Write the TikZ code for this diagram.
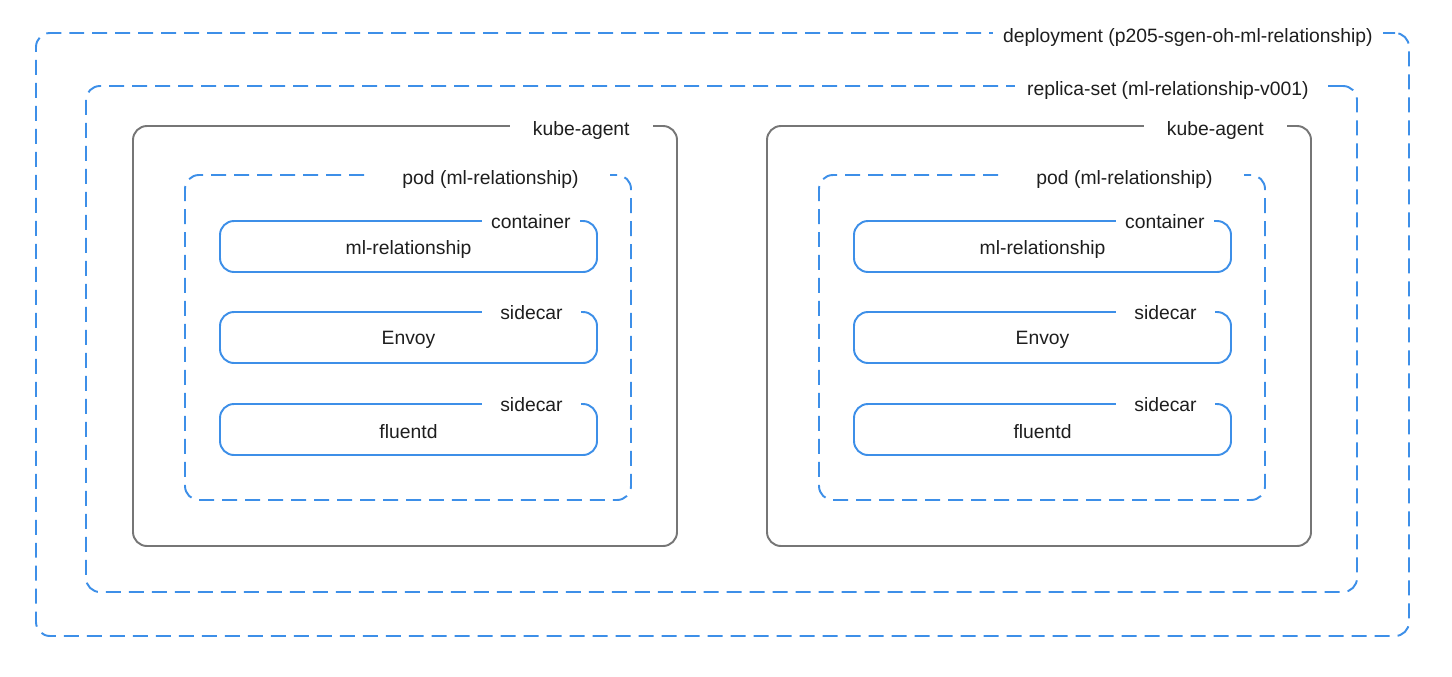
\documentclass[tikz,border=0pt]{standalone}
\usepackage{fontspec}
\setmainfont{Liberation Sans}
\usetikzlibrary{fit}
\definecolor{kblue}{HTML}{3D8FE8}
\definecolor{kgray}{HTML}{767676}
\definecolor{ktext}{HTML}{1E1E1E}
\tikzset{
	outline/.style={draw=kblue, line width=1.1pt, rounded corners=0.28cm, inner sep=0pt},
	dashbox/.style={outline, dash pattern=on 0.3cm off 0.16cm},
	agentbox/.style={outline, draw=kgray},
	caption/.style={text=ktext, font=\fontsize{11}{13}\selectfont},
	tag/.style={caption, fill=white, inner xsep=#1, inner ysep=1pt, anchor=base east, yshift=-0.21cm},
	tag/.default=0.2cm,
	subtag/.style={tag=#1, yshift=0.05cm}
}
\begin{document}
\begin{tikzpicture}[x=0.02cm, y=-0.02cm]
	\useasboundingbox (0,0) rectangle (1452,676);
	\node[dashbox, fit={(36,33) (1409,636)}] (deploy) {};
	\node[tag] (deploytag) at ([xshift=-0.54cm]deploy.north east) {deployment (p205-sgen-oh-ml-relationship)};
	\node[dashbox, fit={(86,86) (1357,592)}] (replica) {};
	\node[tag=0.24cm] (replicatag) at ([xshift=-0.74cm]replica.north east) {replica-set (ml-relationship-v001)};
	\foreach \dx/\s in {0/a, 634/b} {
		\node[agentbox, fit={(133+\dx,126) (677+\dx,546)}] (agent\s) {};
		\node[tag=0.46cm] (agenttag\s) at ([xshift=-0.5cm]agent\s.north east) {kube-agent};
		\node[dashbox, fit={(185+\dx,175) (631+\dx,500)}] (pod\s) {};
		\node[tag=0.62cm] (podtag\s) at ([xshift=-0.44cm]pod\s.north east) {pod (ml-relationship)};
		\node[outline, fit={(220+\dx,221) (597+\dx,272)}] (main\s) {};
		\node[caption, yshift=-0.05cm] (maincaption\s) at (main\s.center) {ml-relationship};
		\node[subtag=0.18cm] (maintag\s) at ([xshift=-0.36cm]main\s.north east) {container};
		\node[outline, fit={(220+\dx,312) (597+\dx,363)}] (envoy\s) {};
		\node[caption, yshift=-0.05cm] (envoycaption\s) at (envoy\s.center) {Envoy};
		\node[subtag=0.36cm] (envoytag\s) at ([xshift=-0.34cm]envoy\s.north east) {sidecar};
		\node[outline, fit={(220+\dx,404) (597+\dx,455)}] (fluentd\s) {};
		\node[caption, yshift=-0.05cm] (fluentdcaption\s) at (fluentd\s.center) {fluentd};
		\node[subtag=0.36cm] (fluentdtag\s) at ([xshift=-0.34cm]fluentd\s.north east) {sidecar};
	}
\end{tikzpicture}
\end{document}
